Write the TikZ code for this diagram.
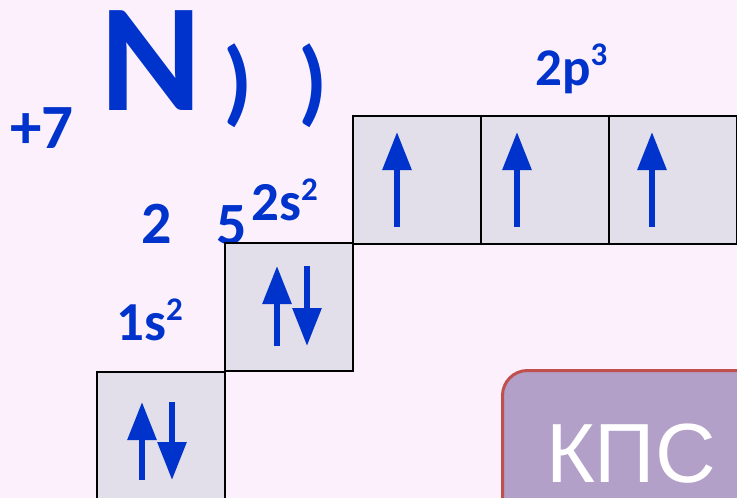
\documentclass[tikz,border=0pt]{standalone}
\usepackage{fontspec}
\setmainfont{Carlito}
\newfontfamily\kpsfont{Liberation Sans}
\usetikzlibrary{arrows.meta,calc,positioning}

\definecolor{bgpink}{HTML}{FDF0FD}
\definecolor{cellgray}{HTML}{E3DFEA}
\definecolor{elblue}{HTML}{0033CC}
\definecolor{kpsfill}{HTML}{B3A0C8}
\definecolor{kpsline}{HTML}{C0504D}

\newcommand{\fsz}[1]{\fontsize{#1}{#1}\selectfont}
\newcommand{\orbup}[1]{\raisebox{20pt}{\fsz{33}#1}}

\tikzset{
    cell/.style={draw=black,line width=2pt,fill=cellgray,
        minimum size=128pt,inner sep=0pt,outer sep=0pt},
    spin/.style={elblue,line width=6pt,
        -{Triangle[width=28pt,length=38pt]}},
    lbl/.style={text=elblue,inner sep=0pt,font=\bfseries}
}

\begin{document}
\begin{tikzpicture}[x=1pt,y=-1pt]

\clip (0,0) rectangle (737,498);
\fill[bgpink] (0,0) rectangle (737,498);

% symbol and shells
\node[lbl,anchor=base west,font=\bfseries\fsz{63}] (charge) at (10,148) {+7};
\node[lbl,anchor=base,font=\bfseries\fsz{154}] (sym) at (151,110) {N};
\node[lbl,font=\bfseries\fsz{94}] (shellA) at (238,86) {)};
\node[lbl,font=\bfseries\fsz{94}] (shellB) at (313,86) {)};
\node[lbl,anchor=base,font=\bfseries\fsz{60}] (nA) at (157,243) {2};
\node[lbl,anchor=base,font=\bfseries\fsz{60}] (nB) at (232,244) {5};

% cells
\node[cell,anchor=north west] (s1) at (97,372) {};
\node[cell,anchor=north west] (s2) at (225,243) {};
\node[cell,anchor=north west] (p1) at (353,116) {};
\node[cell,anchor=north west] (p2) at (481,116) {};
\node[cell,anchor=north west] (p3) at (609,116) {};

% sublevel labels
\node[lbl,anchor=base west,font=\bfseries\fsz{55}] (l1s) at (116,340) {1s\orbup{2}};
\node[lbl,anchor=base west,font=\bfseries\fsz{55}] (l2s) at (251,220) {2s\orbup{2}};
\node[lbl,anchor=base west,font=\bfseries\fsz{53}] (l2p) at (535,85) {2p\orbup{3}};

% electrons
\draw[spin] ($(s1.center)+(-19,44)$) -- ++(0,-78);
\draw[spin] ($(s1.center)+(11,-34)$) -- ++(0,78);
\draw[spin] ($(s2.center)+(-12,39)$) -- ++(0,-80);
\draw[spin] ($(s2.center)+(18,-41)$) -- ++(0,80);
\draw[spin] ($(p1.center)+(-20,47)$) -- ++(0,-95);
\draw[spin] ($(p2.center)+(-28,47)$) -- ++(0,-95);
\draw[spin] ($(p3.center)+(-21,47)$) -- ++(0,-95);

% button
\node[draw=kpsline,line width=3pt,fill=kpsfill,rounded corners=25pt,
    minimum width=280pt,minimum height=160pt,anchor=north west] (kps) at (501,369) {};
\node[anchor=base,inner sep=0pt,text=white,font=\kpsfont\fsz{84}] (kpstext) at (631,482) {КПС};

\end{tikzpicture}
\end{document}
